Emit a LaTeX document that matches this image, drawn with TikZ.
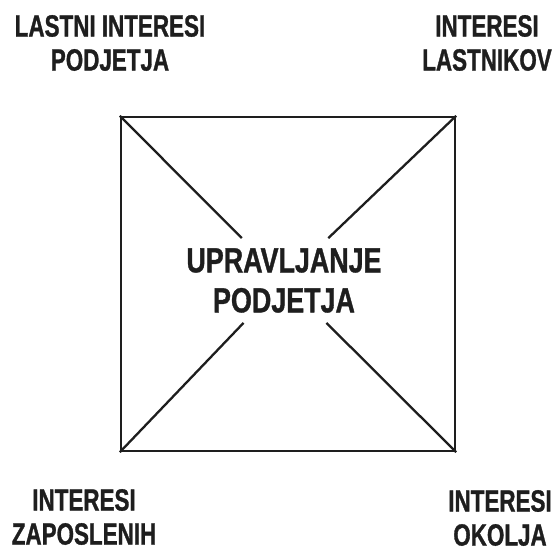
\documentclass[tikz,border=0pt]{standalone}
\usepackage{fontspec}
\usepackage{tikz}
\newfontfamily\labelfont{Liberation Sans}[FakeStretch=0.73, FakeBold=1]
\newfontfamily\titlefont{Liberation Sans}[FakeStretch=0.77, FakeBold=1]
\definecolor{inkdark}{HTML}{1E1E1E}

\begin{document}
\begin{tikzpicture}[x=1pt, y=-1pt,
    interest/.style={align=center, inner sep=0pt, text=inkdark,
      font=\labelfont\bfseries\fontsize{30.7}{34}\selectfont},
    centre/.style={align=center, inner xsep=0pt, inner ysep=10pt, text=inkdark,
      font=\titlefont\bfseries\fontsize{34.9}{40}\selectfont},
    diag/.style={line width=2.3pt, inkdark}]
  \useasboundingbox (0,0) rectangle (553,553);

  % square with the central label
  \node[draw=inkdark, line width=2.3pt, minimum size=334, inner sep=0pt] (frame) at (288,284) {};
  \node[centre] (uprav) at (284,280.5) {UPRAVLJANJE\\PODJETJA};

  % diagonals
  \foreach \c in {north west, north east, south west, south east} {
      \draw[diag] (frame.\c) -- (uprav);
    }

  % the four interests
  \node[interest] (own)  at (110,43)   {LASTNI INTERESI\\PODJETJA};
  \node[interest] (lastn) at (487,43)  {INTERESI\\LASTNIKOV};
  \node[interest] (zapos) at (84,517)  {INTERESI\\ZAPOSLENIH};
  \node[interest] (okol) at (500,518)  {INTERESI\\OKOLJA};
\end{tikzpicture}
\end{document}
